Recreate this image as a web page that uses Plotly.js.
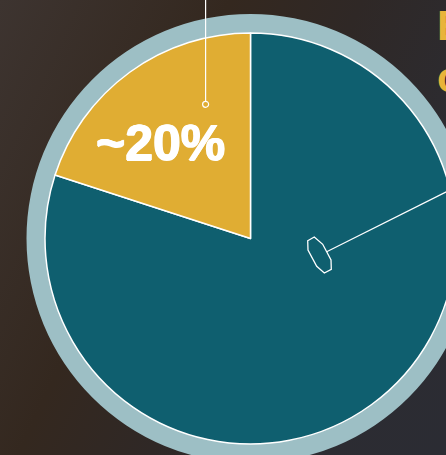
<!DOCTYPE html>
<html>
<head>
<meta charset="utf-8">
<script src="https://cdn.plot.ly/plotly-3.0.1.min.js"></script>
<style>
  html, body { margin: 0; padding: 0; width: 446px; height: 455px; overflow: hidden;
    background: linear-gradient(115deg, #3d3430 0%, #34281f 35%, #2f2826 55%, #2c2c32 80%, #2b2c33 100%); }
  #chart { width: 480px; height: 480px; }
</style>
</head>
<body>
<div id="chart"></div>
<script>
// ---- data ----
const categories = ['Remaining', 'Share'];
const values = [80, 20];
const sliceColors = ['#0f5f6f', '#e0ad33'];
const labelTexts = ['~20%'];
const headingLines = ['E', 'o'];

// ---- geometry helpers (plot area: 45..456 x 33..444 px) ----
const L = 45, T = 33, S = 411;
const px = x => (x - L) / S;
const py = y => (T + S - y) / S;

function pathFrom(points) {
  return points.map((p, i) => (i ? 'L' : 'M') + px(p[0]).toFixed(4) + ',' + py(p[1]).toFixed(4)).join(' ') + ' Z';
}

const hexPts = [[307.7,240.7],[314.3,237],[322.7,244.3],[331,260],[331.3,269.3],[324.3,273],[316.7,266.3],[308,250]];

const trace = {
  type: 'pie',
  labels: categories,
  values: values,
  sort: false,
  direction: 'clockwise',
  rotation: 0,
  marker: { colors: sliceColors, line: { color: '#ffffff', width: 1.5 } },
  textinfo: 'none',
  hoverinfo: 'skip',
  showlegend: false,
  domain: { x: [0, 1], y: [0, 1] }
};

const layout = {
  width: 480, height: 480,
  margin: { l: L, t: T, r: 480 - L - S, b: 480 - T - S, pad: 0 },
  paper_bgcolor: 'rgba(0,0,0,0)',
  plot_bgcolor: 'rgba(0,0,0,0)',
  showlegend: false,
  shapes: [
    { type: 'circle', xref: 'paper', yref: 'paper', layer: 'below',
      x0: px(26.5), x1: px(474.5), y0: py(463), y1: py(14),
      fillcolor: '#9dbfc5', line: { width: 0 } },
    { type: 'line', xref: 'paper', yref: 'paper',
      x0: px(205.6), x1: px(205.6), y0: py(-5), y1: py(101),
      line: { color: '#ffffff', width: 1.2 } },
    { type: 'circle', xref: 'paper', yref: 'paper',
      x0: px(202.6), x1: px(208.6), y0: py(107.3), y1: py(101.3),
      fillcolor: 'rgba(0,0,0,0)', line: { color: '#ffffff', width: 1.2 } },
    { type: 'line', xref: 'paper', yref: 'paper',
      x0: px(326.7), y0: py(251.7), x1: px(480), y1: py(175),
      line: { color: '#ffffff', width: 1.2 } },
    { type: 'path', xref: 'paper', yref: 'paper', path: pathFrom(hexPts),
      fillcolor: 'rgba(0,0,0,0)', line: { color: '#ffffff', width: 1.3 } }
  ],
  annotations: [
    { xref: 'paper', yref: 'paper', x: px(160.5), y: py(142.5),
      xanchor: 'center', yanchor: 'middle', showarrow: false,
      text: '<b>' + labelTexts[0] + '</b>',
      font: { family: 'Liberation Sans, Arial, sans-serif', size: 50, color: '#ffffff',
              shadow: '0.7px 0 0 #fff, -0.7px 0 0 #fff, 0 0.5px 0 #fff' } },
    { xref: 'paper', yref: 'paper', x: px(435), y: py(26),
      xanchor: 'left', yanchor: 'middle', showarrow: false,
      text: '<b>' + headingLines[0] + '</b>',
      font: { family: 'Liberation Sans, Arial, sans-serif', size: 42, color: '#e8b43a' } },
    { xref: 'paper', yref: 'paper', x: px(435), y: py(77),
      xanchor: 'left', yanchor: 'middle', showarrow: false,
      text: '<b>' + headingLines[1] + '</b>',
      font: { family: 'Liberation Sans, Arial, sans-serif', size: 42, color: '#e8b43a' } }
  ]
};

Plotly.newPlot('chart', [trace], layout, { displayModeBar: false, staticPlot: true });
</script>
</body>
</html>
